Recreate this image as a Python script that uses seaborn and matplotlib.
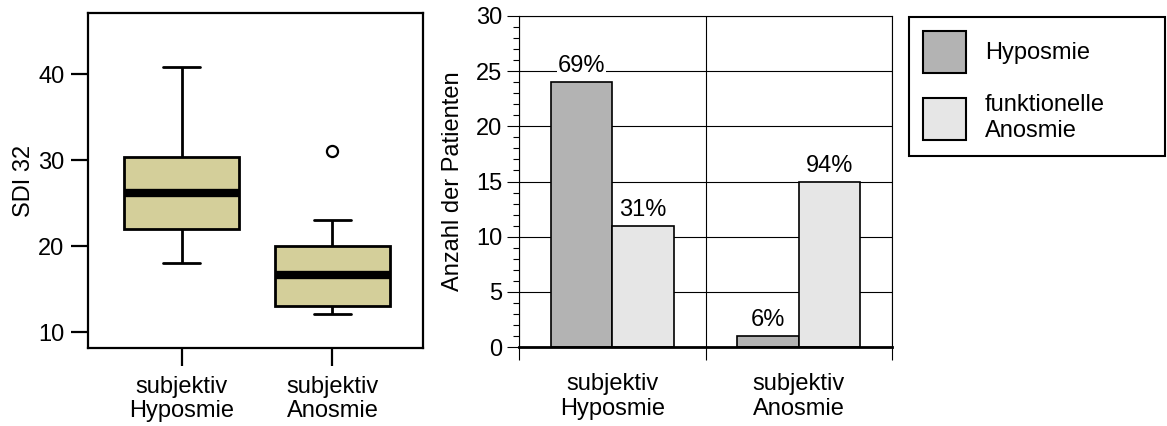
import numpy as np
import pandas as pd
import seaborn as sns
import matplotlib.pyplot as plt
from matplotlib.ticker import MultipleLocator

# --- data ---
box_groups = ["subjektiv\nHyposmie", "subjektiv\nAnosmie"]
# samples chosen so that quartiles / whiskers / outlier match the picture
sdi_hyposmie = [18.0, 20.0, 22.0, 24.0, 26.2, 28.0, 30.3, 35.0, 40.8]
sdi_anosmie = [12.1, 12.6, 13.05, 15.0, 16.6, 18.0, 20.0, 23.0, 31.05]

bar_groups = ["subjektiv\nHyposmie", "subjektiv\nAnosmie"]
bar_types = ["Hyposmie", "funktionelle\nAnosmie"]
n_hyposmie = [24, 1]
n_anosmie = [11, 15]
pct_hyposmie = ["69%", "6%"]
pct_anosmie = ["31%", "94%"]

sns.set_style("ticks")
plt.rcParams['font.family'] = ['Liberation Sans', 'DejaVu Sans']
plt.rcParams['font.size'] = 17
for key in ['text.color', 'axes.labelcolor', 'xtick.color', 'ytick.color']:
    plt.rcParams[key] = 'black'

W, H = 1167, 426
fig = plt.figure(figsize=(W / 100, H / 100), dpi=100)

# ---------- left: box plot ----------
ax1 = fig.add_axes([88 / W, 1 - 348 / H, (423 - 88) / W, (348 - 13) / H])
box_df = pd.DataFrame({
    "group": [box_groups[0]] * len(sdi_hyposmie) + [box_groups[1]] * len(sdi_anosmie),
    "sdi": sdi_hyposmie + sdi_anosmie,
})
sns.boxplot(data=box_df, x="group", y="sdi", ax=ax1, color="#d4cf9a", saturation=1,
            width=0.76, linecolor="black", linewidth=2,
            medianprops=dict(color="black", linewidth=6, solid_capstyle="butt"),
            flierprops=dict(marker="o", markerfacecolor="white", markeredgecolor="black",
                            markersize=8, markeredgewidth=1.6),
            capwidths=0.245)
ax1.set_xlim(-0.62, 1.6)
ax1.set_ylim(8.14, 47.1)
ax1.set_yticks([10, 20, 30, 40])
ax1.set_xlabel("")
ax1.set_ylabel("SDI 32", fontsize=17, labelpad=2)
for s in ax1.spines.values():
    s.set_visible(True)
    s.set_linewidth(1.6)
    s.set_color("black")
ax1.tick_params(axis="y", length=12, width=1.6, pad=5, labelsize=17, direction="out")
ax1.tick_params(axis="x", length=13, width=1.6, pad=7, labelsize=17, direction="out")
for lbl in ax1.get_xticklabels():
    lbl.set_linespacing(1.15)

# ---------- right: bar chart ----------
ax2 = fig.add_axes([519 / W, 1 - 347 / H, (892 - 519) / W, (347 - 16) / H])
bar_df = pd.DataFrame({
    "group": bar_groups * 2,
    "type": [bar_types[0]] * 2 + [bar_types[1]] * 2,
    "n": n_hyposmie + n_anosmie,
})
sns.barplot(data=bar_df, x="group", y="n", hue="type", ax=ax2,
            palette=["#b3b3b3", "#e6e6e6"], saturation=1, width=0.66,
            edgecolor="black", linewidth=1.2, zorder=3)
for cont, labels in zip(ax2.containers, [pct_hyposmie, pct_anosmie]):
    ax2.bar_label(cont, labels=labels, padding=3.5, fontsize=17, zorder=4,
                  bbox=dict(facecolor="white", edgecolor="none", pad=0.5))

handles, labels = ax2.get_legend_handles_labels()
ax2.get_legend().remove()

ax2.set_xlim(-0.5, 1.5)
ax2.set_ylim(0, 30)
ax2.yaxis.set_major_locator(MultipleLocator(5))
ax2.yaxis.set_minor_locator(MultipleLocator(1))
ax2.set_xticks([-0.5, 0.5, 1.5], minor=True)
ax2.set_axisbelow(True)
ax2.grid(axis="y", which="major", color="black", linewidth=0.8)
ax2.grid(axis="x", which="minor", color="black", linewidth=0.8)
ax2.grid(axis="x", which="major", visible=False)
ax2.set_xlabel("")
ax2.set_ylabel("Anzahl der Patienten", fontsize=17, labelpad=9)
for name, s in ax2.spines.items():
    s.set_visible(True)
    s.set_color("black")
    s.set_linewidth(0.8)
ax2.spines["bottom"].set_linewidth(2)
ax2.spines["bottom"].set_zorder(5)
ax2.tick_params(axis="y", which="major", length=9, width=0.8, pad=3, labelsize=17)
ax2.tick_params(axis="y", which="minor", length=4.5, width=0.8)
ax2.tick_params(axis="x", which="major", length=0, pad=19, labelsize=17)
ax2.tick_params(axis="x", which="minor", length=9.5, width=0.8)
for lbl in ax2.get_xticklabels():
    lbl.set_linespacing(1.15)

# ---------- legend ----------
leg = fig.legend(handles, labels, loc="upper left",
                 bbox_to_anchor=(909 / W, 1 - 17 / H, (1165 - 909) / W, 0.0),
                 mode="expand", borderaxespad=0, fontsize=17,
                 handlelength=1.82, handleheight=2.36, handletextpad=0.8,
                 borderpad=0.6, labelspacing=0.9, fancybox=False,
                 frameon=True, framealpha=1)
leg.get_frame().set_linewidth(1.5)
leg.get_frame().set_edgecolor("black")
for p in leg.get_patches():
    p.set_linewidth(1.5)

fig.savefig("out.png", dpi=100)
